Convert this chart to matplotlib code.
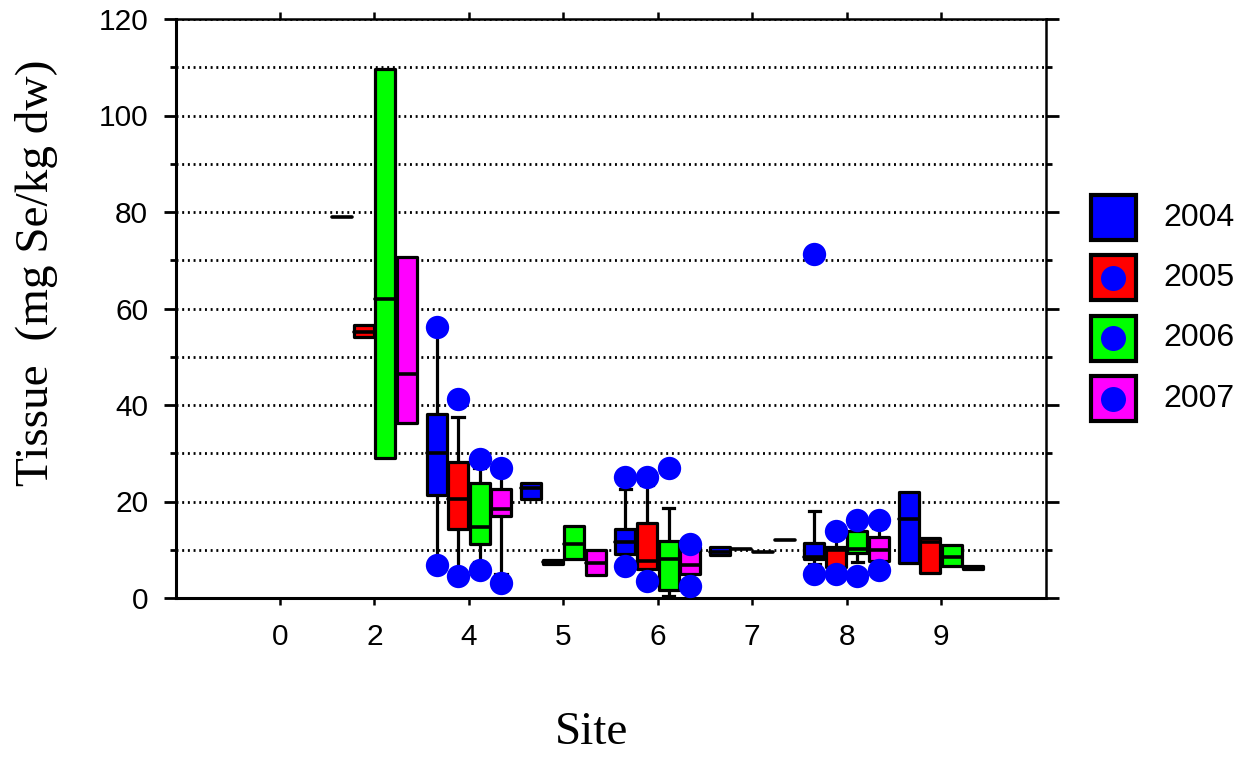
import numpy as np
import matplotlib
matplotlib.use("Agg")
import matplotlib.pyplot as plt
from matplotlib.patches import Rectangle

nan = np.nan

sites = ['0', '2', '4', '5', '6', '7', '8', '9']
years = ['2004', '2005', '2006', '2007']
colors = ['#0000ff', '#ff0000', '#00ff00', '#ff00ff']

# rows = years, columns = sites
q1 = [
    [nan, 79.0, 21.4, 20.5, 9.2, 9.0, 8.1, 7.3],
    [nan, 54.0, 14.4, 7.0, 6.0, 10.1, 6.5, 5.1],
    [nan, 29.0, 11.2, 8.0, 1.7, 9.5, 9.4, 6.7],
    [nan, 36.3, 16.9, 4.7, 5.0, 12.0, 7.6, 6.1],
]
med = [
    [nan, 79.0, 30.0, 22.7, 11.6, 9.5, 8.6, 16.4],
    [nan, 55.2, 20.5, 7.4, 7.6, 10.1, 10.0, 11.6],
    [nan, 62.0, 14.8, 11.2, 8.1, 9.5, 10.2, 8.6],
    [nan, 46.4, 18.4, 7.2, 6.8, 12.0, 9.9, 6.4],
]
q3 = [
    [nan, 79.0, 38.1, 23.8, 14.4, 10.6, 11.4, 21.9],
    [nan, 56.6, 28.1, 7.8, 15.6, 10.1, 10.6, 12.4],
    [nan, 109.6, 23.8, 14.9, 11.8, 9.5, 13.8, 11.0],
    [nan, 70.6, 22.5, 10.0, 10.5, 12.0, 12.6, 6.7],
]
# 10th / 90th percentile whiskers
wlo = [
    [nan, nan, 8.0, nan, 8.0, nan, 7.0, nan],
    [nan, nan, 6.0, nan, 5.0, nan, 6.0, nan],
    [nan, nan, 7.5, nan, 0.5, nan, 7.5, nan],
    [nan, nan, 5.0, nan, 4.0, nan, 6.5, nan],
]
whi = [
    [nan, nan, 55.0, nan, 22.5, nan, 18.1, nan],
    [nan, nan, 37.5, nan, 23.5, nan, 12.5, nan],
    [nan, nan, 27.0, nan, 18.7, nan, 15.0, nan],
    [nan, nan, 25.5, nan, 11.0, nan, 14.5, nan],
]
outliers = [
    [[], [], [56.2, 6.9], [], [25.1, 6.7], [], [71.3, 5.0], []],
    [[], [], [41.2, 4.5], [], [25.0, 3.6], [], [13.8, 5.0], []],
    [[], [], [28.8, 5.7], [], [26.9], [], [16.2, 4.5], []],
    [[], [], [27.0, 3.1], [], [11.1, 2.4], [], [16.2, 5.7], []],
]

plt.rcParams['font.family'] = ['Liberation Sans', 'DejaVu Sans']

fig = plt.figure(figsize=(12.45, 7.62), dpi=100)
ax = fig.add_axes([176 / 1245, 1 - 598 / 762, 870 / 1245, 579 / 762])

LW = 2.3
step = 0.228
bw = 0.212
cap = 0.06

for j in range(len(years)):
    off = (j - 1.5) * step
    for i in range(len(sites)):
        if np.isnan(med[j][i]):
            continue
        x = i + off
        lo, m, hi = q1[j][i], med[j][i], q3[j][i]
        # whiskers
        for w, end in ((wlo[j][i], lo), (whi[j][i], hi)):
            if not np.isnan(w):
                ax.plot([x, x], [end, w], color='k', lw=LW, zorder=3,
                        solid_capstyle='butt')
                ax.plot([x - cap, x + cap], [w, w], color='k', lw=LW, zorder=3)
        if hi > lo:
            ax.add_patch(Rectangle((x - bw / 2, lo), bw, hi - lo,
                                   facecolor=colors[j], edgecolor='k', lw=LW,
                                   joinstyle='round', zorder=4))
        ax.plot([x - bw / 2, x + bw / 2], [m, m], color='k', lw=LW + 0.3,
                zorder=5, solid_capstyle='round')
        pts = outliers[j][i]
        if pts:
            ax.plot([x] * len(pts), pts, 'o', color='#0000ff', ms=16.8,
                    mec='none', zorder=6)

ax.set_xlim(-1.1, 8.11)
ax.set_ylim(0, 120)
ax.set_xticks(range(len(sites)))
ax.set_xticklabels(sites)
ax.set_yticks(np.arange(0, 121, 20))
ax.set_yticks(np.arange(10, 120, 20), minor=True)
ax.set_axisbelow(True)
ax.yaxis.grid(True, which='both', linestyle=(0, (0.7, 1.35)), color='k', lw=2.0)

ax.tick_params(axis='y', which='major', direction='out', length=9, width=2,
               labelsize=21.5, pad=11, right=True)
ax.tick_params(axis='y', which='minor', direction='out', length=4.5, width=2,
               right=True)
ax.tick_params(axis='x', direction='out', length=5, width=1.8, labelsize=21.5,
               pad=13, top=True)
for side in ['left', 'bottom']:
    ax.spines[side].set_linewidth(2.2)
for side in ['top', 'right']:
    ax.spines[side].set_linewidth(1.8)

fig.text(37 / 1245, 1 - 273 / 762, 'Tissue  (mg Se/kg dw)', rotation=90,
         ha='center', va='center', fontsize=34, family='Liberation Serif')
fig.text(592 / 1245, 1 - 733 / 762, 'Site', ha='center', va='center',
         fontsize=34, family='Liberation Serif')

# legend, drawn in pixel units
lax = fig.add_axes([1080 / 1245, 1 - 430 / 762, 165 / 1245, 250 / 762])
lax.set_xlim(0, 165)
lax.set_ylim(250, 0)
lax.axis('off')
for j, yr in enumerate(years):
    cy = 37.5 + 60.4 * j
    lax.add_patch(Rectangle((10.5, cy - 22.5), 45, 45, facecolor=colors[j],
                            edgecolor='k', lw=3, clip_on=False))
    if j > 0:
        lax.plot([33], [cy], 'o', color='#0000ff', ms=18, mec='none')
    lax.text(83, cy, yr, ha='left', va='center', fontsize=23)

fig.savefig('out.png', dpi=100)
